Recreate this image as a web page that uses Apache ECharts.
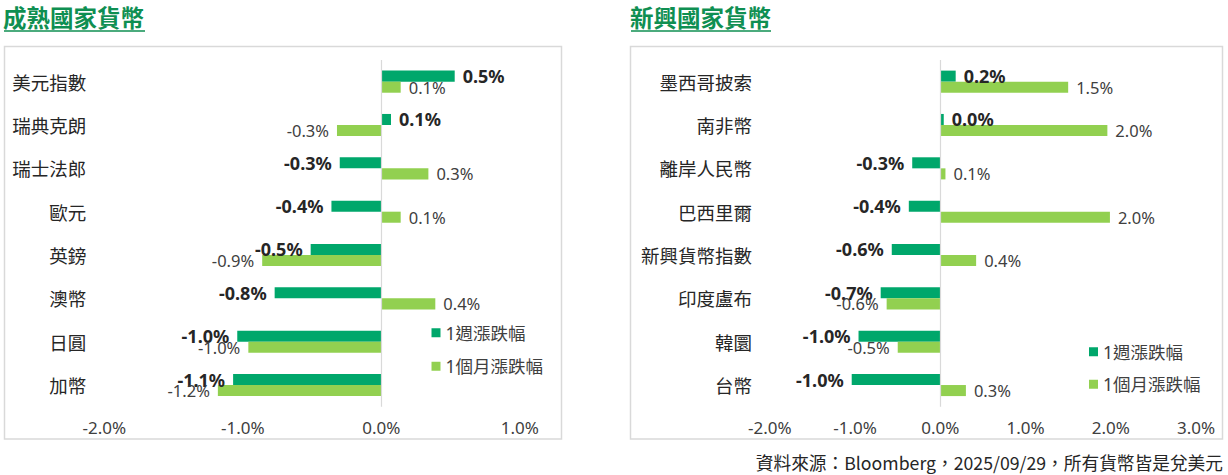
<!DOCTYPE html>
<html>
<head>
<meta charset="utf-8">
<script src="https://cdn.jsdelivr.net/npm/echarts@6/dist/echarts.min.js"></script>
<style>
html,body{margin:0;padding:0;background:#fff;}
#c{width:1228px;height:475px;}
</style>
</head>
<body>
<div id="c"></div>
<script>
// ---- data ----
const devCategories = ['美元指數','瑞典克朗','瑞士法郎','歐元','英鎊','澳幣','日圓','加幣'];
const devWeek  = [0.53, 0.07, -0.30, -0.36, -0.51, -0.77, -1.04, -1.07];
const devMonth = [0.14, -0.32, 0.34, 0.14, -0.86, 0.39, -0.96, -1.18];

const emCategories = ['墨西哥披索','南非幣','離岸人民幣','巴西里爾','新興貨幣指數','印度盧布','韓圜','台幣'];
const emWeek  = [0.18, 0.04, -0.33, -0.37, -0.57, -0.70, -0.96, -1.04];
const emMonth = [1.50, 1.96, 0.06, 1.99, 0.42, -0.63, -0.50, 0.30];

const seriesNames = ['1週漲跌幅','1個月漲跌幅'];
const devTicks = {min:-2, max:1, interval:1};
const emTicks  = {min:-2, max:3, interval:1};
const titles = ['成熟國家貨幣','新興國家貨幣'];
const sourceText = '資料來源：Bloomberg，2025/09/29，所有貨幣皆是兌美元';

// ---- styles ----
const FONT = "'Noto Sans','Noto Sans CJK TC',sans-serif";
const CJK = "'Noto Sans CJK TC','Noto Sans',sans-serif";
const C_WEEK = '#00a76b';
const C_MONTH = '#92d050';
const C_TITLE = '#0f8f52';
const C_BORDER = '#d9d9d9';

const pct = v => v.toFixed(1) + '%';

function mkData(arr){
  return arr.map(v => ({value: v, label: {position: v < 0 ? 'left' : 'right'}}));
}

function barSeries(idx, name, arr, color, bold){
  return {
    type: 'bar',
    name: name,
    xAxisIndex: idx, yAxisIndex: idx,
    data: mkData(arr),
    barGap: '0%',
    barCategoryGap: '49%',
    itemStyle: {color: color},
    label: {
      show: true,
      distance: 8,
      formatter: p => pct(p.value),
      fontFamily: FONT,
      fontSize: bold ? 18 : 16.5,
      fontWeight: bold ? 'bold' : 'normal',
      color: bold ? '#262626' : '#404040'
    },
    emphasis: {disabled: true},
    animation: false,
    markLine: bold ? {
      silent: true, symbol: 'none', animation: false,
      label: {show: false},
      lineStyle: {color: C_BORDER, type: 'solid', width: 1.2},
      data: [{xAxis: 0}]
    } : undefined
  };
}

function xAxisCfg(idx, t){
  return {
    type: 'value', gridIndex: idx,
    min: t.min, max: t.max, interval: t.interval,
    axisLine: {show: false}, axisTick: {show: false}, splitLine: {show: false},
    axisLabel: {formatter: v => pct(v), fontFamily: FONT, fontSize: 17, color: '#404040', margin: 12}
  };
}
function yAxisCfg(idx, cats){
  return {
    type: 'category', gridIndex: idx, data: cats, inverse: true,
    axisLine: {show: false}, axisTick: {show: false}, splitLine: {show: false},
    axisLabel: {fontFamily: CJK, fontSize: 18.5, color: '#262626', margin: 18}
  };
}

const chart = echarts.init(document.getElementById('c'), null, {renderer: 'svg'});
chart.setOption({
  backgroundColor: '#fff',
  animation: false,
  title: [
    {text: titles[0], left: 3, top: 5, padding: 0, textStyle: {fontFamily: CJK, fontSize: 23.5, fontWeight: 'bold', color: C_TITLE}},
    {text: titles[1], left: 630, top: 5, padding: 0, textStyle: {fontFamily: CJK, fontSize: 23.5, fontWeight: 'bold', color: C_TITLE}}
  ],
  legend: [
    {data: seriesNames, orient: 'vertical', left: 431.5, top: 324, padding: 0, itemWidth: 9, itemHeight: 9, itemGap: 16, icon: 'rect',
     textStyle: {fontFamily: FONT, fontSize: 17.5, color: '#404040'}, selectedMode: false},
    {data: seriesNames, orient: 'vertical', left: 1089, top: 343, padding: 0, itemWidth: 9, itemHeight: 9, itemGap: 15, icon: 'rect',
     textStyle: {fontFamily: FONT, fontSize: 17.5, color: '#404040'}, selectedMode: false}
  ],
  grid: [
    {left: 104.3, top: 60, width: 415.5, height: 346.7},
    {left: 769.9, top: 60, width: 426.1, height: 346.7}
  ],
  xAxis: [xAxisCfg(0, devTicks), xAxisCfg(1, emTicks)],
  yAxis: [yAxisCfg(0, devCategories), yAxisCfg(1, emCategories)],
  series: [
    barSeries(0, seriesNames[0], devWeek, C_WEEK, true),
    barSeries(0, seriesNames[1], devMonth, C_MONTH, false),
    barSeries(1, seriesNames[0], emWeek, C_WEEK, true),
    barSeries(1, seriesNames[1], emMonth, C_MONTH, false)
  ],
  graphic: [
    {type: 'line', silent: true, shape: {x1: 4, y1: 31, x2: 145, y2: 31}, style: {stroke: C_TITLE, lineWidth: 1.6}},
    {type: 'line', silent: true, shape: {x1: 631, y1: 31, x2: 771, y2: 31}, style: {stroke: C_TITLE, lineWidth: 1.6}},
    {type: 'rect', silent: true, z: -1, shape: {x: 4.5, y: 46.5, width: 557, height: 392.5}, style: {fill: 'none', stroke: C_BORDER, lineWidth: 1.5}},
    {type: 'rect', silent: true, z: -1, shape: {x: 630.5, y: 46.5, width: 592, height: 392.5}, style: {fill: 'none', stroke: C_BORDER, lineWidth: 1.5}},
    {type: 'text', silent: true, x: 1223, y: 462, style: {text: sourceText, fontFamily: CJK, fontSize: 17.7, fill: '#262626', textAlign: 'right', textVerticalAlign: 'middle'}}
  ]
});
</script>
</body>
</html>
